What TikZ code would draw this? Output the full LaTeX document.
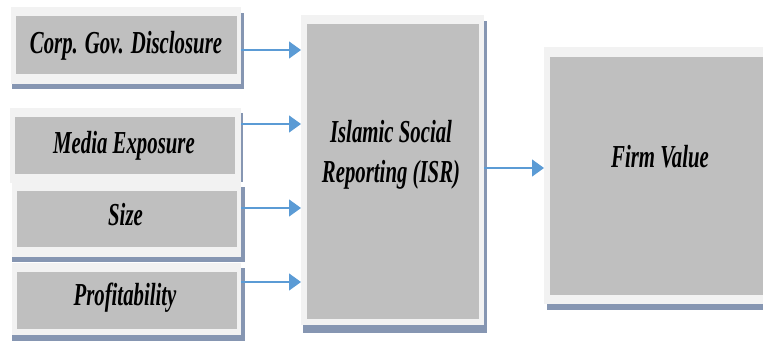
\documentclass[tikz,border=0pt]{standalone}
\usepackage{fontspec}
\setmainfont{Liberation Serif}[FakeStretch=0.65]
\usetikzlibrary{arrows.meta}
\definecolor{framec}{HTML}{F2F2F2}
\definecolor{innerc}{HTML}{BFBFBF}
\definecolor{shadowc}{HTML}{8696B2}
\definecolor{arrowc}{HTML}{5B9BD5}
\tikzset{
  frame/.style={fill=framec, draw=none, inner sep=0pt, outer sep=0pt},
  shade/.style={fill=shadowc, draw=none},
  innerbox/.style={fill=innerc, draw=none},
  lbl/.style={font=\fontsize{32}{40}\selectfont\bfseries\itshape, inner sep=0pt, anchor=base, align=center},
  arr/.style={draw=arrowc, line width=1.4pt, -{Triangle[length=12pt,width=17pt]}}
}
\begin{document}
\begin{tikzpicture}[x=1pt,y=-1pt]
\useasboundingbox (0,0) rectangle (763,341);
% shadows
\fill[shade] (12,13) rectangle (244,89);
\fill[shade] (12,113) rectangle (243,182);
\fill[shade] (12,187) rectangle (245,262);
\fill[shade] (12,268) rectangle (245,341);
\fill[shade] (303,21) rectangle (487,333);
\fill[shade] (547,53) rectangle (775,310);
% frames
\node[frame, minimum width=230pt, minimum height=77pt] (cg) at (126,45.5) {};
\node[frame, minimum width=231pt, minimum height=75pt] (me) at (125.5,145.5) {};
\node[frame, minimum width=229pt, minimum height=74pt] (sz) at (126.5,220) {};
\node[frame, minimum width=229pt, minimum height=72pt] (pr) at (126.5,299) {};
\node[frame, minimum width=183pt, minimum height=310pt] (isr) at (392.5,170) {};
\node[frame, minimum width=226pt, minimum height=257pt] (fv) at (657,175.5) {};
% inner boxes
\fill[innerbox] (16,16) rectangle (237,74);
\fill[innerbox] (15,117) rectangle (235,174);
\fill[innerbox] (17,191) rectangle (237,247);
\fill[innerbox] (17,272) rectangle (237,329);
\fill[innerbox] (307,24) rectangle (479,319);
\fill[innerbox] (550,57) rectangle (775,295);
% labels
\node[lbl] (tcg) at (126,53) {Corp. Gov. Disclosure};
\node[lbl] (tme) at (124,153) {Media Exposure};
\node[lbl] (tsz) at (125.5,225) {Size};
\node[lbl] (tpr) at (125,305) {Profitability};
\node[lbl] (tisr1) at (391,142) {Islamic Social};
\node[lbl] (tisr2) at (391,182) {Reporting (ISR)};
\node[lbl] (tfv) at (660,167) {Firm Value};
% arrow rows
\coordinate (y1) at (0,50);
\coordinate (y2) at (0,124);
\coordinate (y3) at (0,208);
\coordinate (y4) at (0,282);
\coordinate (y5) at (0,168);
\draw[arr] (cg.east |- y1) -- (isr.west |- y1);
\draw[arr] (me.east |- y2) -- (isr.west |- y2);
\draw[arr] (sz.east |- y3) -- (isr.west |- y3);
\draw[arr] (pr.east |- y4) -- (isr.west |- y4);
\draw[arr] (isr.east |- y5) -- (fv.west |- y5);
\end{tikzpicture}
\end{document}
